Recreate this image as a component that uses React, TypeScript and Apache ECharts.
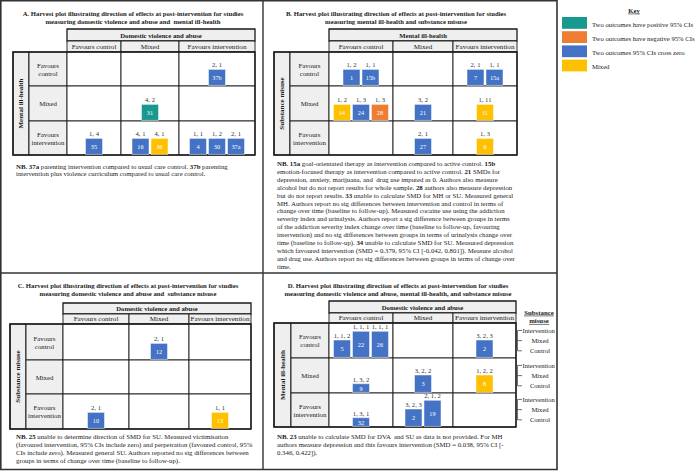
import React, { useEffect, useRef } from 'react';
import * as echarts from 'echarts';

const SERIF = '"Liberation Serif", "Times New Roman", serif';
const INK = '#1a1a1a';
const GRAY = '#efefef';

// ---------- categories / labels ----------
const outcomeLevels = ['Favours control', 'Mixed', 'Favours intervention'];
const rowLabelLines = ['Favours\ncontrol', 'Mixed', 'Favours\nintervention'];
const suLevels = ['Control', 'Mixed', 'Intervention']; // level 1, 2, 3
const keyLabels = [
  'Two outcomes have positive 95% CIs',
  'Two outcomes have negative 95% CIs',
  'Two outcomes 95% CIs cross zero',
  'Mixed',
];
const keyColors = ['#18998f', '#ed7d31', '#4472c4', '#ffc000'];

// ---------- data: [row, col, study, codes, effect(key index)] ----------
const barsA = [
  [0, 2, '37b', '2, 1', 2],
  [1, 1, '31', '4, 2', 0],
  [2, 0, '35', '1, 4', 2],
  [2, 1, '16', '4, 1', 2],
  [2, 1, '36', '4, 1', 3],
  [2, 2, '4', '1, 1', 2],
  [2, 2, '30', '1, 2', 2],
  [2, 2, '37a', '2, 1', 2],
];
const barsB = [
  [0, 0, '1', '1, 2', 2],
  [0, 0, '15b', '1, 1', 2],
  [0, 2, '7', '2, 1', 2],
  [0, 2, '15a', '1, 1', 2],
  [1, 0, '14', '1, 2', 3],
  [1, 0, '24', '1, 3', 2],
  [1, 0, '28', '1, 3', 1],
  [1, 1, '21', '3, 2', 2],
  [1, 2, '11', '1, 11', 3],
  [2, 1, '27', '2, 1', 2],
  [2, 2, '6', '1, 3', 3],
];
const barsC = [
  [0, 1, '12', '2, 1', 2],
  [2, 0, '10', '2, 1', 2],
  [2, 2, '13', '1, 1', 3],
];
// D: [row, col, study, codes, effect, substance-misuse level (1 Control, 2 Mixed, 3 Intervention)]
const barsD = [
  [0, 0, '5', '1, 1, 2', 2, 2],
  [0, 0, '22', '1, 1, 1', 2, 3],
  [0, 0, '26', '1, 1, 1', 2, 3],
  [0, 2, '2', '3, 2, 3', 2, 2],
  [1, 0, '9', '1, 3, 2', 2, 1],
  [1, 1, '3', '3, 2, 2', 2, 2],
  [1, 2, '8', '1, 2, 2', 3, 2],
  [2, 0, '32', '1, 3, 1', 2, 1],
  [2, 1, '2', '3, 2, 3', 2, 2],
  [2, 1, '19', '2, 1, 2', 2, 3],
];

// ---------- texts ----------
const titleA = ['A. Harvest plot illustrating direction of effects at post-intervention for studies', 'measuring domestic violence and abuse and  mental ill-health'];
const titleB = ['B. Harvest plot illustrating direction of effects at post-intervention for studies', 'measuring mental ill-health and substance misuse'];
const titleC = ['C. Harvest plot illustrating direction of effects at post-intervention for studies', 'measuring domestic violence and abuse and  substance misuse'];
const titleD = ['D. Harvest plot illustrating direction of effects at post-intervention for studies', 'measuring domestic violence and abuse, mental ill-health, and substance misuse'];

const nbA = [
  '{b|NB.} {b|37a} parenting intervention compared to usual care control. {b|37b} parenting',
  'intervention plus violence curriculum compared to usual care control.',
];
const nbB = [
  '{b|NB.} {b|15a} goal-orientated therapy as intervention compared to active control. {b|15b}',
  'emotion-focused therapy as intervention compared to active control. {b|21} SMDs for',
  'depression, anxiety, marijuana, and  drug use imputed as 0. Authors also measure',
  'alcohol but do not report results for whole sample. {b|28} authors also measure depression',
  'but do not report results. {b|33} unable to calculate SMD for MH or SU. Measured general',
  'MH. Authors report no sig differences between intervention and control in terms of',
  'change over time (baseline to follow-up). Measured cocaine use using the addiction',
  'severity index and urinalysis. Authors report a sig difference between groups in terms',
  'of the addiction severity index change over time (baseline to follow-up, favouring',
  'intervention) and no sig differences between groups in terms of urinalysis change over',
  'time (baseline to follow-up). {b|34} unable to calculate SMD for SU. Measured depression',
  'which favoured intervention (SMD = 0.379, 95% CI [-0.042, 0.801]). Measure alcohol',
  'and drug use. Authors report no sig differences between groups in terms of change over',
  'time.',
];
const nbC = [
  '{b|NB.} {b|25} unable to determine direction of SMD for SU. Measured victimisation',
  '(favoured intervention, 95% CIs include zero) and perpetration (favoured control, 95%',
  'CIs include zero). Measured general SU. Authors reported no sig differences between',
  'groups in terms of change over time (baseline to follow-up).',
];
const nbD = [
  '{b|NB.} {b|23} unable to calculate SMD for DVA  and SU as data is not provided. For MH',
  'authors measure depression and this favours intervention (SMD = 0.038, 95% CI [-',
  '0.346, 0.422]).',
];

// ---------- layout ----------
type Layout = {
  outer: number[]; label: number[]; cols: number[]; head: number; colHead: number; rows: number[];
  rowTitle: string; colTitle: string; title: string[]; titleX: number; titleY: number[];
  nb: string[]; nbX: number; nbY: number; nbStep: number;
};
const LA: Layout = { outer: [13, 29], label: [29, 67], cols: [67, 121, 179, 255], head: 29, colHead: 41, rows: [52, 86, 121, 155], rowTitle: 'Mental ill-health', colTitle: 'Domestic violence and abuse', title: titleA, titleX: 133, titleY: [13, 21], nb: nbA, nbX: 16, nbY: 166, nbStep: 7.6 };
const LB: Layout = { outer: [274, 290], label: [290, 329], cols: [329, 393, 453, 517], head: 29, colHead: 41, rows: [52, 86, 121, 155], rowTitle: 'Substance misuse', colTitle: 'Mental ill-health', title: titleB, titleX: 396, titleY: [13, 21], nb: nbB, nbX: 277, nbY: 163.5, nbStep: 7.9 };
const LC: Layout = { outer: [10, 26], label: [26, 63], cols: [63, 129, 189, 251], head: 303, colHead: 314, rows: [324, 360, 394, 429], rowTitle: 'Substance misuse', colTitle: 'Domestic violence and abuse', title: titleC, titleX: 128, titleY: [285, 293], nb: nbC, nbX: 16, nbY: 436, nbStep: 8 };
const LD: Layout = { outer: [274, 291], label: [291, 329], cols: [329, 393, 453, 516], head: 301, colHead: 313, rows: [323, 358, 393, 427], rowTitle: 'Mental ill-health', colTitle: 'Domestic violence and abuse', title: titleD, titleX: 398, titleY: [285, 293], nb: nbD, nbX: 277, nbY: 436, nbStep: 8 };

const BAR_W = 17;
const PITCH = 19;
const BAR_H = 16;
const D_UNIT = 8.7;
const FS = 6.8;

function txt(x: number, y: number, text: string, o: any = {}) {
  return { type: 'text', silent: true, z: 5, style: { text, x, y, fill: INK, fontSize: FS, fontFamily: SERIF, align: 'center', verticalAlign: 'middle', ...o } };
}
function box(x: number, y: number, w: number, h: number, fill: string, lw = 0.9) {
  return { type: 'rect', silent: true, z: 1, shape: { x, y, width: w, height: h }, style: { fill, stroke: INK, lineWidth: lw } };
}
function seg(x1: number, y1: number, x2: number, y2: number, lw = 1, color = INK, z = 3) {
  return { type: 'line', silent: true, z, shape: { x1, y1, x2, y2 }, style: { stroke: color, lineWidth: lw } };
}

function panelGraphics(L: Layout) {
  const els: any[] = [];
  const c = L.cols;
  const r = L.rows;
  L.title.forEach((t, i) => els.push(txt(L.titleX, L.titleY[i], t, { fontWeight: 'bold', fontSize: 6.7 })));
  els.push(box(c[0], L.head, c[3] - c[0], L.colHead - L.head, GRAY, 1.3));
  els.push(txt((c[0] + c[3]) / 2, (L.head + L.colHead) / 2, L.colTitle, { fontWeight: 'bold', fontSize: 6.7 }));
  for (let i = 0; i < 3; i++) {
    els.push(box(c[i], L.colHead, c[i + 1] - c[i], r[0] - L.colHead, GRAY, 0.9));
    els.push(txt((c[i] + c[i + 1]) / 2, (L.colHead + r[0]) / 2, outcomeLevels[i], { fontSize: 7.1 }));
  }
  els.push(box(L.outer[0], r[0], L.outer[1] - L.outer[0], r[3] - r[0], GRAY, 1.2));
  els.push({ type: 'text', silent: true, z: 5, x: (L.outer[0] + L.outer[1]) / 2, y: (r[0] + r[3]) / 2, rotation: Math.PI / 2, style: { text: L.rowTitle, x: 0, y: 0, fill: INK, fontSize: 7, fontWeight: 'bold', fontFamily: SERIF, align: 'center', verticalAlign: 'middle' } });
  for (let j = 0; j < 3; j++) {
    els.push(box(L.label[0], r[j], L.label[1] - L.label[0], r[j + 1] - r[j], GRAY, 0.9));
    els.push(txt((L.label[0] + L.label[1]) / 2, (r[j] + r[j + 1]) / 2, rowLabelLines[j], { fontSize: 6.8, lineHeight: 8 }));
    for (let i = 0; i < 3; i++) {
      els.push(box(c[i], r[j], c[i + 1] - c[i], r[j + 1] - r[j], '#ffffff', 0.9));
    }
  }
  els.push({ type: 'rect', silent: true, z: 2, shape: { x: L.outer[0], y: r[0], width: c[3] - L.outer[0], height: r[3] - r[0] }, style: { fill: 'none', stroke: INK, lineWidth: 1.4 } });
  L.nb.forEach((t, i) => els.push(txt(L.nbX, L.nbY + i * L.nbStep, t, {
    align: 'left', fontSize: FS,
    rich: { b: { fontWeight: 'bold', fontSize: FS, fontFamily: SERIF, fill: INK } },
  })));
  return els;
}

type Item = { value: number[]; study: string; codes: string };
function buildItems(L: Layout, bars: any[], isD: boolean): Item[] {
  const counts: Record<string, number> = {};
  bars.forEach((b) => { const k = b[0] + '-' + b[1]; counts[k] = (counts[k] || 0) + 1; });
  const seen: Record<string, number> = {};
  return bars.map((b) => {
    const [r, c, study, codes, eff, lvl] = b;
    const k = r + '-' + c;
    const i = (seen[k] = (seen[k] === undefined ? -1 : seen[k]) + 1);
    const n = counts[k];
    const cx = (L.cols[c] + L.cols[c + 1]) / 2 + (i - (n - 1) / 2) * PITCH;
    const by = L.rows[r + 1] - 0.6;
    const h = isD ? lvl * D_UNIT : BAR_H;
    return { value: [cx, by, h, eff], study, codes };
  });
}

const items: Item[] = [
  ...buildItems(LA, barsA, false),
  ...buildItems(LB, barsB, false),
  ...buildItems(LC, barsC, false),
  ...buildItems(LD, barsD, true),
];

function keyAndFrame() {
  const els: any[] = [];
  els.push({ type: 'rect', silent: true, z: 0, shape: { x: 0.8, y: 0.8, width: 556.2, height: 468.7 }, style: { fill: '#fff', stroke: '#333', lineWidth: 1.6 } });
  els.push(seg(263, 0, 263, 469.5, 1.4, '#333', 3));
  els.push(seg(0, 273, 557, 273, 1.4, '#333', 3));
  els.push(txt(634, 10, 'Key', { fontWeight: 'bold', fontSize: 6.7 }));
  els.push(seg(628, 13.9, 640, 13.9, 0.6));
  keyLabels.forEach((t, i) => {
    const y = 17 + i * 14.2;
    els.push({ type: 'rect', silent: true, z: 1, shape: { x: 562, y, width: 25, height: 11.8 }, style: { fill: keyColors[i] } });
    els.push(txt(592, y + 7.3, t, { align: 'left', fontSize: 6.7 }));
  });
  els.push(txt(539, 312, 'Substance', { fontWeight: 'bold', fontSize: 6.8 }));
  els.push(seg(524, 315.9, 554, 315.9, 0.6));
  els.push(txt(539, 320.5, 'misuse', { fontWeight: 'bold', fontSize: 6.8 }));
  els.push(seg(529, 324.4, 549, 324.4, 0.6));
  for (let j = 0; j < 3; j++) {
    const bottom = LD.rows[j + 1];
    const yTop = bottom - 3 * D_UNIT - 1.5;
    const yBot = bottom - 1 * D_UNIT + 1.5;
    els.push(seg(517.5, yTop, 517.5, yBot, 0.7, '#333', 3));
    for (let l = 1; l <= 3; l++) {
      const y = bottom - l * D_UNIT - (l === 3 ? 1.5 : l === 1 ? -1.5 : 0);
      els.push(seg(517.5, y, 522, y, 0.7, '#333', 3));
      els.push(txt(l === 3 ? 522.5 : 540, y, suLevels[l - 1], { align: l === 3 ? 'left' : 'center', fontSize: 6.6 }));
    }
  }
  return els;
}

export default function App() {
  const ref = useRef<HTMLDivElement>(null);
  useEffect(() => {
    if (!ref.current) return;
    const chart = echarts.init(ref.current, undefined, { renderer: 'svg' });
    const graphics = [...keyAndFrame(), ...panelGraphics(LA), ...panelGraphics(LB), ...panelGraphics(LC), ...panelGraphics(LD)];
    chart.setOption({
      animation: false,
      backgroundColor: '#ffffff',
      grid: { left: 0, right: 0, top: 0, bottom: 0 },
      xAxis: { type: 'value', min: 0, max: 696, show: false },
      yAxis: { type: 'value', min: 0, max: 471, inverse: true, show: false },
      graphic: { elements: graphics },
      series: [
        {
          type: 'custom',
          z: 10,
          silent: true,
          data: items.map((it) => it.value),
          renderItem: (params: any, api: any) => {
            const it = items[params.dataIndex];
            const p = api.coord([api.value(0), api.value(1)]);
            const s = api.size([BAR_W, api.value(2)]);
            const w = Math.abs(s[0]);
            const h = Math.abs(s[1]);
            const color = keyColors[api.value(3)];
            return {
              type: 'group',
              children: [
                { type: 'rect', shape: { x: p[0] - w / 2, y: p[1] - h, width: w, height: h }, style: { fill: color, stroke: 'rgba(255,255,255,0.6)', lineWidth: 0.8 } },
                { type: 'text', style: { text: it.study, x: p[0], y: p[1] - h / 2, fill: '#ffffff', fontSize: 6.3, fontFamily: SERIF, align: 'center', verticalAlign: 'middle' } },
                { type: 'text', style: { text: it.codes, x: p[0], y: p[1] - h - 4.6, fill: '#333', fontSize: 6.6, fontFamily: SERIF, align: 'center', verticalAlign: 'middle' } },
              ],
            };
          },
        },
      ],
    });
    return () => chart.dispose();
  }, []);
  return <div ref={ref} style={{ position: 'fixed', left: 0, top: 0, width: 696, height: 471 }} />;
}
